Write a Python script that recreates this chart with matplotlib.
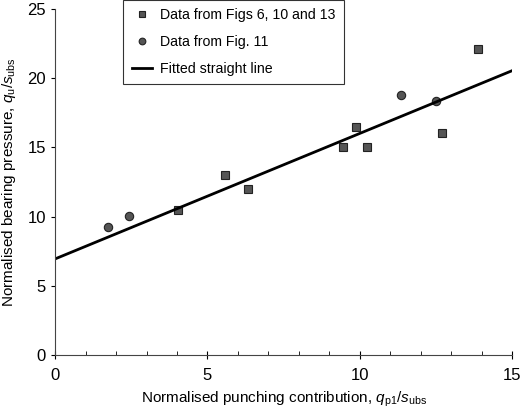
"""Normalised bearing pressure vs normalised punching contribution."""
import matplotlib
matplotlib.use("Agg")
import matplotlib.pyplot as plt
import numpy as np

plt.rcParams['font.family'] = ['Liberation Sans', 'DejaVu Sans']
plt.rcParams['mathtext.fontset'] = 'custom'
plt.rcParams['mathtext.it'] = 'Liberation Sans:italic'
plt.rcParams['mathtext.rm'] = 'Liberation Sans'

# Data from Figs 6, 10 and 13 (squares)
sq_x = [4.03, 5.57, 6.34, 9.46, 9.87, 10.22, 12.69, 13.89]
sq_y = [10.48, 13.03, 12.0, 15.05, 16.5, 15.05, 16.06, 22.09]

# Data from Fig. 11 (circles)
ci_x = [1.73, 2.42, 11.36, 12.50]
ci_y = [9.22, 10.02, 18.76, 18.37]

# Fitted straight line end points
fit_x = [0, 15]
fit_y = [6.95, 20.55]

fig = plt.figure(figsize=(5.2, 4.11), dpi=100)
ax = fig.add_axes([0.106, 0.136, 0.879, 0.842])

ax.plot(sq_x, sq_y, linestyle='none', marker='s', markersize=5.5,
        markerfacecolor='#555555', markeredgecolor='#222222',
        markeredgewidth=0.8, label='Data from Figs 6, 10 and 13')
ax.plot(ci_x, ci_y, linestyle='none', marker='o', markersize=6,
        markerfacecolor='#555555', markeredgecolor='#222222',
        markeredgewidth=0.8, label='Data from Fig. 11')
ax.plot(fit_x, fit_y, color='black', linewidth=2, label='Fitted straight line')

ax.set_xlim(0, 15)
ax.set_ylim(0, 25)
ax.set_xticks([0, 5, 10, 15])
ax.set_xticks(np.arange(0, 16, 1), minor=True)
ax.set_yticks([0, 5, 10, 15, 20, 25])
ax.tick_params(axis='both', labelsize=12, width=0.8)
ax.tick_params(axis='x', which='major', direction='inout', length=6, pad=6)
ax.tick_params(axis='x', which='minor', direction='in', length=3)
ax.tick_params(axis='y', which='major', direction='out', length=3)

for side in ('top', 'right'):
    ax.spines[side].set_visible(False)
ax.spines['left'].set_color('#444444')
ax.spines['bottom'].set_color('#444444')

ax.set_xlabel(r'Normalised punching contribution, $q_{\mathrm{p1}}$/$s_{\mathrm{ubs}}$',
              fontsize=11, labelpad=5)
ax.set_ylabel(r'Normalised bearing pressure, $q_{\mathrm{u}}$/$s_{\mathrm{ubs}}$',
              fontsize=11, labelpad=7)

leg = ax.legend(loc='upper left', bbox_to_anchor=(0.149, 1.027), fontsize=10.2,
                frameon=True, fancybox=False, edgecolor='black',
                handlelength=1.4, handletextpad=0.6, borderpad=0.6,
                borderaxespad=0, labelspacing=0.9, markerscale=0.8)
leg.get_frame().set_linewidth(0.8)

fig.savefig('out.png', dpi=100, facecolor='white')
